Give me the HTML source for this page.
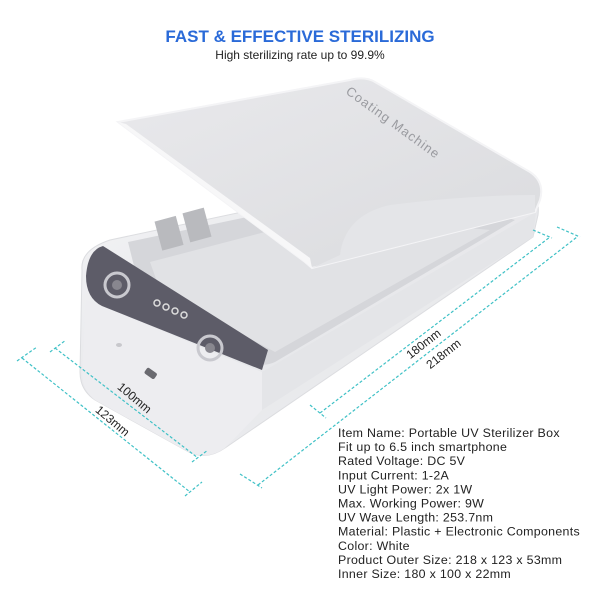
<!DOCTYPE html>
<html><head><meta charset="utf-8"><style>
html,body{margin:0;padding:0;background:#fff;width:600px;height:600px;overflow:hidden}
svg{display:block}
text{font-family:"Liberation Sans",sans-serif}
</style></head><body>
<svg width="600" height="600" viewBox="0 0 600 600" xmlns="http://www.w3.org/2000/svg">
<defs>
<linearGradient id="body" x1="0" y1="0" x2="1" y2="1">
<stop offset="0" stop-color="#f4f4f6"/><stop offset="0.5" stop-color="#e6e7ea"/><stop offset="1" stop-color="#f2f2f4"/>
</linearGradient>
<linearGradient id="lid" x1="0" y1="0" x2="1" y2="1">
<stop offset="0" stop-color="#e9e9ec"/><stop offset="1" stop-color="#dadbde"/>
</linearGradient>
</defs>
<text x="300" y="42" text-anchor="middle" font-size="17" font-weight="bold" fill="#2a6ad8">FAST &amp; EFFECTIVE STERILIZING</text>
<text x="300" y="59" text-anchor="middle" font-size="12" fill="#222">High sterilizing rate up to 99.9%</text>

<path d="M82,270 Q80,250 110,240 L440,170 L530,195 Q540,200 538,215 L533,237 L225,448 Q205,462 185,450 L95,400 Q80,390 80,372 Z" fill="url(#body)" stroke="#dcdde0"/>
<path d="M86,300 L262,372 L262,410 L225,448 Q205,462 185,450 L95,400 Q82,390 82,372 Z" fill="#ededf0"/>
<path d="M262,372 L536,212 L533,237 L262,410 Z" fill="#e4e5e8"/>
<path d="M128,242 L400,185 L515,220 L275,362 Q262,368 255,360 L140,290 Z" fill="#d5d6da"/>
<path d="M150,262 L330,215 L490,230 L275,352 L160,290 Z" fill="#e1e2e5"/>
<rect x="158" y="218" width="22" height="30" fill="#b9babe" transform="rotate(-15 170 233)"/>
<rect x="186" y="210" width="22" height="30" fill="#b9babe" transform="rotate(-15 197 225)"/>
<path d="M103,246 L268,350 L262,370 L102,306 Q86,298 86,276 Q88,250 103,246 Z" fill="#5d5c68"/>
<circle cx="117" cy="285" r="12" fill="none" stroke="#c9c9cf" stroke-width="3"/>
<circle cx="117" cy="285" r="5" fill="#88878f"/>
<circle cx="210" cy="348" r="12" fill="none" stroke="#c9c9cf" stroke-width="3"/>
<circle cx="210" cy="348" r="5" fill="#88878f"/>
<circle cx="157" cy="303" r="3" fill="none" stroke="#ddd" stroke-width="1.5"/>
<circle cx="166" cy="307" r="3" fill="none" stroke="#ddd" stroke-width="1.5"/>
<circle cx="175" cy="311" r="3" fill="none" stroke="#ddd" stroke-width="1.5"/>
<circle cx="184" cy="315" r="3" fill="none" stroke="#ddd" stroke-width="1.5"/>
<ellipse cx="119" cy="345" rx="3" ry="2" fill="#c8c8cc"/>
<rect x="145" y="370" width="12" height="7" rx="2" fill="#6a6a70" transform="rotate(35 151 373)"/>

<path d="M118,122 L350,80 Q365,76 375,82 L530,172 Q545,182 540,200 L535,212 L312,268 L305,262 Z" fill="url(#lid)" stroke="#f4f4f6" stroke-width="2"/>
<path d="M118,122 L305,262 L312,268 L310,258 L126,124 Z" fill="#f7f7f8"/>
<path d="M340,255 Q345,215 390,205 Q470,195 535,195 L535,212 L312,268 Z" fill="#e4e5e8"/>
<text x="0" y="0" font-family="Liberation Serif,serif" font-size="13" fill="#9a9ba0" transform="translate(345,93) rotate(36)" letter-spacing="1">Coating Machine</text>

<g stroke="#3fc1c6" stroke-width="1.2" stroke-dasharray="3,2" fill="none">
<path d="M55,348 L198,458"/><path d="M50,352 L66,340"/><path d="M192,462 L208,450"/>
<path d="M22,358 L190,492"/><path d="M17,361 L37,347"/><path d="M185,496 L202,482"/>
<path d="M320,413 L550,237"/><path d="M310,405 L326,418"/><path d="M533,230 L552,238"/>
<path d="M258,485 L577,237"/><path d="M240,474 L262,488"/><path d="M557,227 L580,237"/>
</g>
<text font-size="12" fill="#222" text-anchor="middle" transform="translate(132,401) rotate(40)">100mm</text>
<text font-size="12" fill="#222" text-anchor="middle" transform="translate(110,424) rotate(40)">123mm</text>
<text font-size="12" fill="#222" text-anchor="middle" transform="translate(426,347) rotate(-38)">180mm</text>
<text font-size="12" fill="#222" text-anchor="middle" transform="translate(446,357) rotate(-38)">218mm</text>

<g font-size="12.4" fill="#222" letter-spacing="0.3">
<text x="338" y="437">Item Name: Portable UV Sterilizer Box</text>
<text x="338" y="451.1">Fit up to 6.5 inch smartphone</text>
<text x="338" y="465.2">Rated Voltage: DC 5V</text>
<text x="338" y="479.3">Input Current: 1-2A</text>
<text x="338" y="493.4">UV Light Power: 2x 1W</text>
<text x="338" y="507.5">Max. Working Power: 9W</text>
<text x="338" y="521.6">UV Wave Length: 253.7nm</text>
<text x="338" y="535.7">Material: Plastic + Electronic Components</text>
<text x="338" y="549.8">Color: White</text>
<text x="338" y="563.9">Product Outer Size: 218 x 123 x 53mm</text>
<text x="338" y="578">Inner Size: 180 x 100 x 22mm</text>
</g>
</svg>
</body></html>
